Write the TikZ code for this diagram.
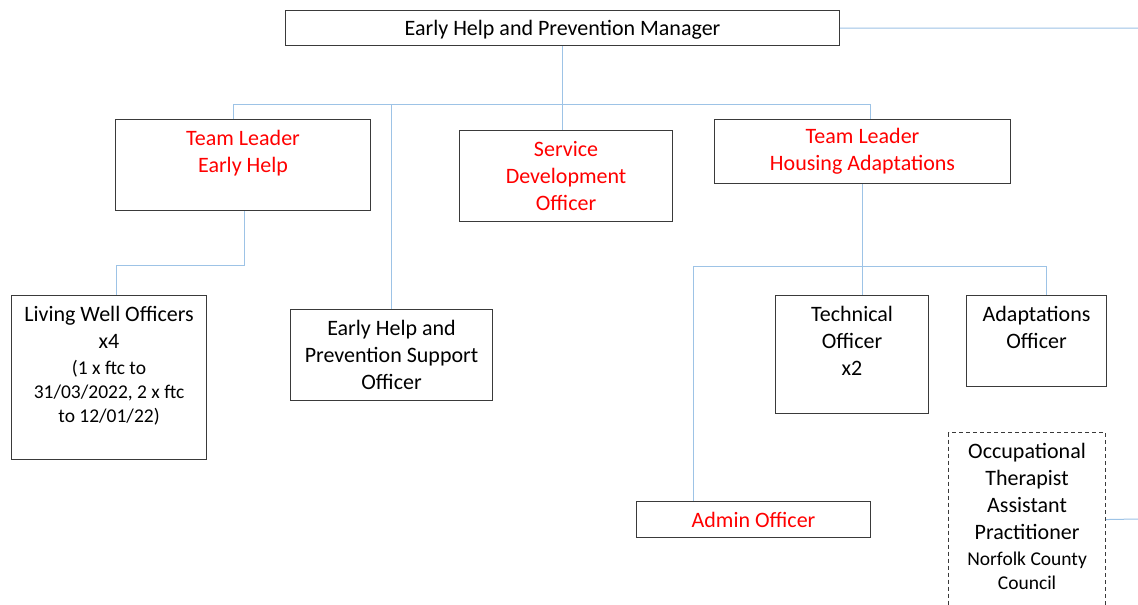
\documentclass[tikz,border=0pt]{standalone}
\usepackage{fontspec}
\setmainfont{Carlito}
\definecolor{lineblue}{HTML}{9DC3E6}
\definecolor{boxgray}{HTML}{3A3A3A}
\definecolor{orgred}{HTML}{FF0000}
\newcommand\bigtxt{\fontsize{22}{27}\selectfont}
\newcommand\smalltxt{\fontsize{19.5}{24}\selectfont}
\newcommand\orgtopbox[3]{\parbox[c][#1][t]{#2}{\centering\bigtxt\vspace*{11pt}#3\par}}
\newcommand\orgmidbox[3]{\parbox[c][#1][c]{#2}{\centering\bigtxt #3\par}}
\tikzset{
  box/.style={draw=boxgray, line width=1.1pt, inner sep=0pt, anchor=north west, text=black},
  redbox/.style={box, text=orgred},
  link/.style={draw=lineblue, line width=1pt},
}
\begin{document}
\begin{tikzpicture}[x=1pt,y=-1pt]
\useasboundingbox (0,0) rectangle (1138,605);
\clip (0,0) rectangle (1138,605);
\fill[white] (0,0) rectangle (1138,605);

\node[box] (mgr) at (285,10) {\orgmidbox{35pt}{554pt}{\vspace*{4pt}Early Help and Prevention Manager}};
\node[redbox] (tle) at (115,119) {\orgtopbox{91pt}{255pt}{Team Leader\\Early Help}};
\node[redbox] (sdo) at (459,130) {\orgmidbox{91pt}{213pt}{Service\\Development\\Officer}};
\node[redbox] (tlh) at (714,119) {\orgmidbox{64pt}{296pt}{Team Leader\\Housing Adaptations}};
\node[box] (lw) at (11,295) {\orgtopbox{164pt}{195pt}{Living Well Officers\\x4\par\smalltxt\vspace{2pt}(1 x ftc to\\31/03/2022, 2 x ftc\\to 12/01/22)}};
\node[box] (ehs) at (290,309) {\orgmidbox{91pt}{202pt}{Early Help and\\Prevention Support\\Officer}};
\node[box] (tech) at (775,295) {\orgtopbox{118pt}{153pt}{Technical\\Officer\\x2}};
\node[box] (adp) at (966,295) {\orgtopbox{91pt}{140pt}{Adaptations\\Officer}};
\node[redbox] (adm) at (636,501) {\orgmidbox{36pt}{234pt}{Admin Officer}};
\node[box, dash pattern=on 4pt off 3pt] (ot) at (948,432) {\orgtopbox{190pt}{157pt}{Occupational\\Therapist\\Assistant\\Practitioner\par\smalltxt\vspace{2pt}Norfolk County\\Council}};

\coordinate (mgrR) at (1138,28);
\coordinate (busL) at (233,104);
\coordinate (busR) at (870,104);
\coordinate (hL) at (693,266);
\coordinate (hR) at (1046,266);
\coordinate (otR) at (1138,519);

\draw[link] (mgr.east) -- (mgrR);
\draw[link] (mgr.south) -- (mgr.south |- sdo.north);
\draw[link] (busL |- tle.north) -- (busL) -- (busR) -- (busR |- tlh.north);
\draw[link] (ehs.north) -- (ehs.north |- busL);
\draw[link] ([xshift=1.5pt]tle.south) -- ++(0,54) -| ([xshift=7.5pt]lw.north);
\draw[link] (tlh.south) -- ([xshift=10.5pt]tech.north);
\draw[link] (hL |- adm.north) -- (hL) -- (hR) -- (hR |- adp.north);
\draw[link] ([yshift=8pt]ot.east) -- (otR);
\end{tikzpicture}
\end{document}
